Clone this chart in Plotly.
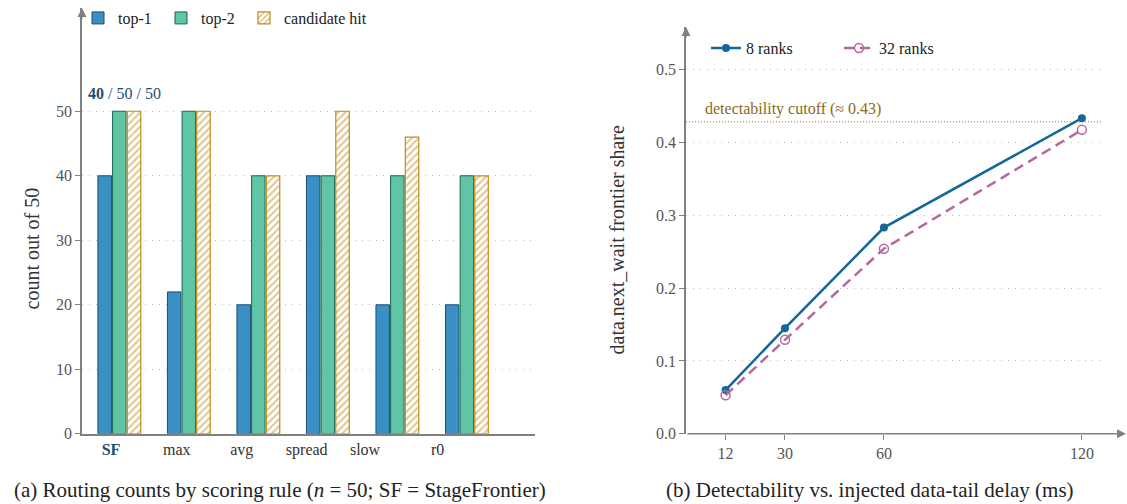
import plotly.graph_objects as go

# ---- data: panel (a)
categories = ["SF", "max", "avg", "spread", "slow", "r0"]
top1 = [40, 22, 20, 40, 20, 20]
top2 = [50, 50, 40, 40, 40, 40]
cand_hit = [50, 50, 40, 50, 46, 40]
tick_labels_a = ["<b><span style='color:#1d4e74'>SF</span></b>", "max", "avg", "spread", "slow", "r0"]
label_pos_a = [-0.12, 0.826, 1.761, 2.696, 3.535, 4.578]
y_ticks_a = [0, 10, 20, 30, 40, 50]

# ---- data: panel (b)
delay_ms = [12, 30, 60, 120]
share_8 = [0.060, 0.145, 0.283, 0.433]
share_32 = [0.053, 0.129, 0.254, 0.417]
cutoff = 0.428
y_ticks_b = [0.0, 0.1, 0.2, 0.3, 0.4, 0.5]
y_tick_text_b = ["0.0", "0.1", "0.2", "0.3", "0.4", "0.5"]

FONT = "Liberation Serif"
AX = "#808080"
TICK = "#555555"
GRID = "#bdbdbd"

fig = go.Figure()
fig.add_trace(go.Bar(x=categories, y=top1, name="top-1", xaxis="x", yaxis="y",
                     marker=dict(color="#3a8fc4", line=dict(color="#1b4f72", width=1)),
                     legend="legend", legendwidth=38))
fig.add_trace(go.Bar(x=categories, y=top2, name="top-2", xaxis="x", yaxis="y",
                     marker=dict(color="#60c4a6", line=dict(color="#1a6650", width=1)),
                     legend="legend", legendwidth=38))
fig.add_trace(go.Bar(x=categories, y=cand_hit, name="candidate hit", xaxis="x", yaxis="y",
                     marker=dict(color="white", line=dict(color="#c08a18", width=1.2),
                                 pattern=dict(shape="/", fgcolor="#c08a18", bgcolor="white",
                                              size=5, solidity=0.4)),
                     legend="legend"))

fig.add_trace(go.Scatter(x=delay_ms, y=share_8, name="8 ranks", mode="lines+markers",
                         xaxis="x2", yaxis="y2",
                         line=dict(color="#13679a", width=2.5),
                         marker=dict(symbol="circle", size=8, color="#13679a"),
                         legend="legend2", legendwidth=88))
fig.add_trace(go.Scatter(x=delay_ms, y=share_32, name="32 ranks", mode="lines+markers",
                         xaxis="x2", yaxis="y2",
                         line=dict(color="#b5689b", width=2.5, dash="10px,6px"),
                         marker=dict(symbol="circle-open", size=9, color="#b5689b",
                                     line=dict(width=1.5)),
                         legend="legend2"))

W, H = 1127, 504       # reference frame used for placement fractions
H_LAYOUT = 514         # layout height (capture maps it onto 504 rows)
bottom = 1 - 433 / H
tickfont = dict(family=FONT, size=16, color=TICK)

fig.update_layout(
    width=W, height=H_LAYOUT,
    margin=dict(l=0, r=0, t=0, b=0),
    paper_bgcolor="white", plot_bgcolor="white",
    font=dict(family=FONT, size=16, color="#222222"),
    barmode="group", bargap=0.367, bargroupgap=0.08,
    xaxis=dict(domain=[82 / W, 535 / W], range=[-0.537, 5.98], type="category",
               tickmode="array", tickvals=label_pos_a, ticktext=tick_labels_a,
               tickfont=dict(family=FONT, size=16, color="#333333"),
               showline=True, linecolor=AX, linewidth=1.5, ticks="", showgrid=False,
               anchor="y", zeroline=False),
    yaxis=dict(domain=[bottom, 1 - 8 / H], range=[0, 66], tickvals=y_ticks_a,
               tickfont=tickfont, showline=True, linecolor=AX, linewidth=1.5,
               ticks="outside", ticklen=5, tickcolor=AX,
               showgrid=True, gridcolor=GRID, griddash="1px,6px", gridwidth=1,
               zeroline=False, anchor="x"),
    xaxis2=dict(domain=[686 / W, 1103 / W], range=[0, 126.4], tickvals=delay_ms,
                tickfont=tickfont, showline=False, ticks="outside", ticklen=5, tickcolor=AX,
                showgrid=False, zeroline=False, anchor="y2"),
    yaxis2=dict(domain=[bottom, 1 - 27 / H], range=[0, 0.558], tickvals=y_ticks_b,
                ticktext=y_tick_text_b,
                tickfont=tickfont, showline=True, linecolor=AX, linewidth=1.5,
                ticks="outside", ticklen=5, tickcolor=AX,
                showgrid=True, gridcolor=GRID, griddash="1px,6px", gridwidth=1,
                zeroline=False, anchor="x2"),
    legend=dict(orientation="h", x=78 / W, y=1 - 18 / H, xanchor="left", yanchor="middle",
                font=dict(family=FONT, size=16, color="#222222"), bgcolor="rgba(0,0,0,0)"),
    legend2=dict(orientation="h", x=706 / W, y=1 - 48 / H, xanchor="left", yanchor="middle",
                 font=dict(family=FONT, size=16, color="#222222"), bgcolor="rgba(0,0,0,0)"),
    showlegend=True,
)

# cutoff line
fig.add_shape(type="line", xref="x2 domain", yref="y2", x0=0, x1=1, y0=cutoff, y1=cutoff,
              line=dict(color="#a07a1a", width=1, dash="1px,2px"))

annotations = [
    # arrows on axes
    dict(xref="paper", yref="paper", x=82 / W, y=1 - 8 / H, ax=0, ay=12,
         axref="pixel", ayref="pixel", showarrow=True, arrowhead=2, arrowsize=1.2,
         arrowwidth=1.5, arrowcolor=AX, text=""),
    dict(xref="paper", yref="paper", x=686 / W, y=1 - 27 / H, ax=0, ay=12,
         axref="pixel", ayref="pixel", showarrow=True, arrowhead=2, arrowsize=1.2,
         arrowwidth=1.5, arrowcolor=AX, text=""),
    dict(xref="paper", yref="paper", x=1126 / W, y=bottom, ax=-(1126 - 686), ay=0,
         axref="pixel", ayref="pixel", showarrow=True, arrowhead=2, arrowsize=1.2,
         arrowwidth=1.5, arrowcolor=AX, text=""),
    # value callout
    dict(xref="paper", yref="paper", x=86 / W, y=1 - 93 / H, xanchor="left", yanchor="middle",
         showarrow=False, text="<b>40</b> / 50 / 50",
         font=dict(family=FONT, size=16, color="#1d4e74")),
    # cutoff label
    dict(xref="paper", yref="paper", x=703 / W, y=1 - 109 / H, xanchor="left", yanchor="middle",
         showarrow=False, text="detectability cutoff (≈ 0.43)",
         font=dict(family=FONT, size=16, color="#8b6a14")),
    # y titles
    dict(xref="paper", yref="paper", x=19 / W, y=1 - 248 / H, textangle=-90,
         showarrow=False, text="count out of 50",
         font=dict(family=FONT, size=20, color="#333333")),
    dict(xref="paper", yref="paper", x=617 / W, y=1 - 240 / H, textangle=-90,
         showarrow=False, text="data.next_wait frontier share",
         font=dict(family=FONT, size=20, color="#333333")),
    # captions
    dict(xref="paper", yref="paper", x=280 / W, y=1 - 489 / H, xanchor="center", yanchor="middle",
         showarrow=False,
         text="(a) Routing counts by scoring rule (<i>n</i> = 50; SF = StageFrontier)",
         font=dict(family=FONT, size=21, color="#222222")),
    dict(xref="paper", yref="paper", x=870 / W, y=1 - 489 / H, xanchor="center", yanchor="middle",
         showarrow=False,
         text="(b) Detectability vs. injected data-tail delay (ms)",
         font=dict(family=FONT, size=21, color="#222222")),
]
fig.update_layout(annotations=annotations)

post = (
    "document.documentElement.style.margin='0';"
    "document.body.style.margin='0';"
)
fig.write_html("out.html", config={"displayModeBar": False}, post_script=post)
